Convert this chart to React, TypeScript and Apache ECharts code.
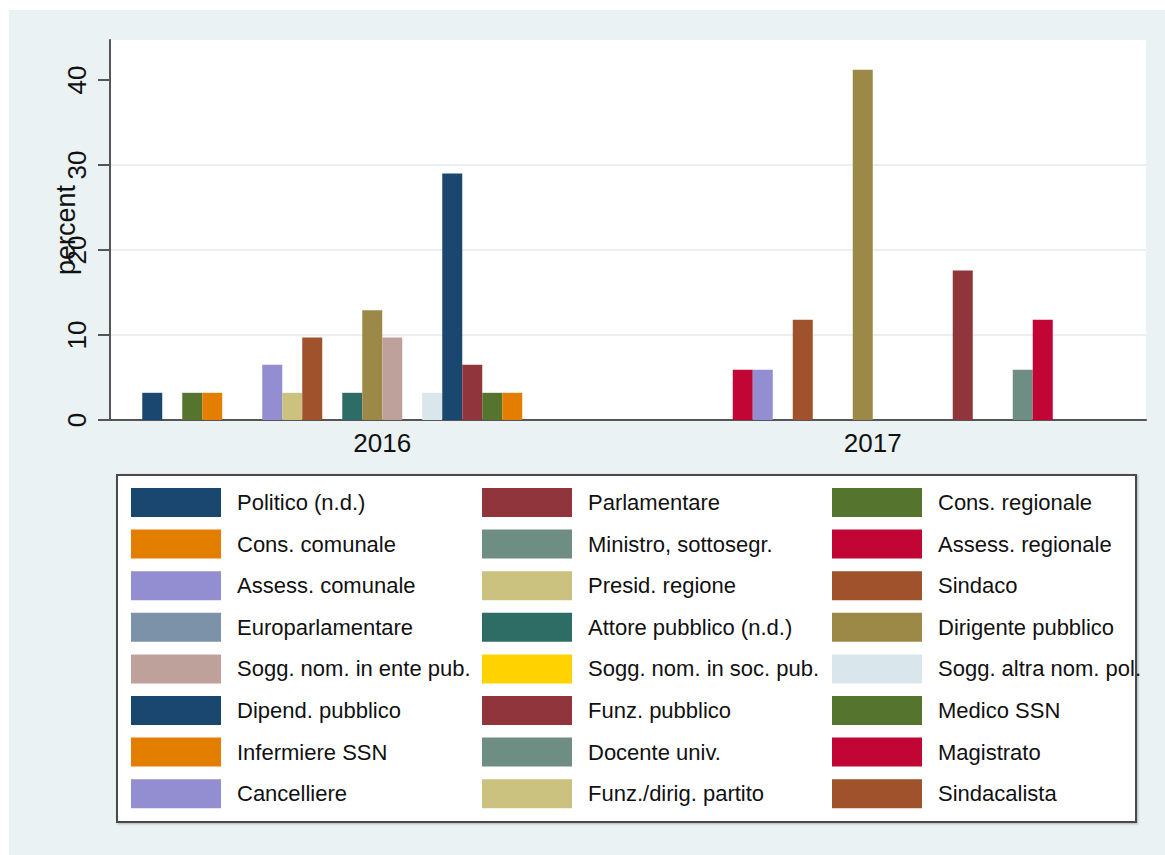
import React, { useEffect, useRef } from "react";
import * as echarts from "echarts";

const categories = ["2016", "2017"];

const seriesNames = [
  "Politico (n.d.)", "Parlamentare", "Cons. regionale",
  "Cons. comunale", "Ministro, sottosegr.", "Assess. regionale",
  "Assess. comunale", "Presid. regione", "Sindaco",
  "Europarlamentare", "Attore pubblico (n.d.)", "Dirigente pubblico",
  "Sogg. nom. in ente pub.", "Sogg. nom. in soc. pub.", "Sogg. altra nom. pol.",
  "Dipend. pubblico", "Funz. pubblico", "Medico SSN",
  "Infermiere SSN", "Docente univ.", "Magistrato",
  "Cancelliere", "Funz./dirig. partito", "Sindacalista",
];

const seriesColors = [
  "#1a476f", "#90353b", "#55752f",
  "#e37e00", "#6e8e84", "#c10534",
  "#938dd2", "#cac27e", "#a0522d",
  "#7b92a8", "#2d6d66", "#9c8847",
  "#bfa19c", "#ffd200", "#d9e6eb",
  "#1a476f", "#90353b", "#55752f",
  "#e37e00", "#6e8e84", "#c10534",
  "#938dd2", "#cac27e", "#a0522d",
];

const values2016 = [3.2, 0, 3.2, 3.2, 0, 0, 6.5, 3.2, 9.7, 0, 3.2, 12.9, 9.7, 0, 3.2, 29.0, 6.5, 3.2, 3.2, 0, 0, 0, 0, 0];
const values2017 = [0, 0, 0, 0, 0, 5.9, 5.9, 0, 11.8, 0, 0, 41.2, 0, 0, 0, 0, 17.6, 0, 0, 5.9, 11.8, 0, 0, 0];

const yTicks = [0, 10, 20, 30, 40];

const FONT = "'Liberation Sans', Arial, Helvetica, sans-serif";

export default function App() {
  const ref = useRef<HTMLDivElement>(null);

  useEffect(() => {
    if (!ref.current) return;
    const chart = echarts.init(ref.current, null, { renderer: "svg" });

    const yMax = 44.7;
    const legendCols = [0, 1, 2].map((c) => seriesNames.filter((_, i) => i % 3 === c));
    const legendLefts = [131, 482, 832];

    const option: any = {
      animation: false,
      grid: [
        { left: 110, top: 40, width: 1036, height: 380, show: true, backgroundColor: "#ffffff", borderWidth: 0 },
        { left: 137, top: 40, width: 981, height: 380, show: false },
      ],
      xAxis: [
        {
          type: "category",
          gridIndex: 0,
          data: categories,
          axisLine: { show: true, lineStyle: { color: "#555", width: 2 } },
          axisTick: { show: false },
          axisLabel: { show: false },
          splitLine: { show: false },
        },
        {
          type: "category",
          gridIndex: 1,
          data: categories,
          axisLine: { show: false },
          axisTick: { show: false },
          axisLabel: { show: true, fontSize: 26, color: "#111", fontFamily: FONT, margin: 10 },
        },
      ],
      yAxis: [
        {
          type: "value",
          gridIndex: 0,
          min: 0,
          max: yMax,
          interval: 10,
          name: "percent",
          nameLocation: "middle",
          nameGap: 31,
          nameMoveOverlap: false,
          nameTextStyle: { fontSize: 27, color: "#111", fontFamily: FONT },
          axisLine: { show: true, lineStyle: { color: "#555", width: 2 } },
          axisTick: { show: true, length: 12, customValues: yTicks, lineStyle: { color: "#555", width: 2 } },
          axisLabel: { rotate: 90, fontSize: 26, color: "#111", fontFamily: FONT, margin: 20, customValues: yTicks },
          splitLine: { show: true, showMaxLine: false, lineStyle: { color: "#e8f0f2", width: 2 } },
        },
        {
          type: "value",
          gridIndex: 1,
          min: 0,
          max: yMax,
          show: false,
          splitLine: { show: false },
        },
      ],
      legend: legendCols.map((names, i) => ({
        data: names,
        orient: "vertical",
        left: legendLefts[i],
        top: 488,
        padding: 0,
        itemWidth: 90,
        itemHeight: 29,
        itemGap: 12.6,
        icon: "rect",
        selectedMode: false,
        textStyle: { fontSize: 22, color: "#111", fontFamily: FONT, padding: [4, 0, -4, 11] },
      })),
      graphic: [
        {
          type: "rect",
          z: -10,
          shape: { x: 117, y: 475, width: 1019, height: 347 },
          style: { fill: "#ffffff", stroke: "#4a4a4a", lineWidth: 2, shadowColor: "rgba(0,0,0,0.25)", shadowBlur: 2, shadowOffsetX: 1, shadowOffsetY: 1 },
        },
      ],
      series: seriesNames.map((name, i) => ({
        name,
        type: "bar",
        xAxisIndex: 1,
        yAxisIndex: 1,
        barWidth: 20,
        barGap: "0%",
        itemStyle: { color: seriesColors[i] },
        data: [values2016[i], values2017[i]],
      })),
    };

    chart.setOption(option);
    return () => chart.dispose();
  }, []);

  return (
    <div style={{ position: "fixed", left: 0, top: 0, width: 1165, height: 855, background: "#fff" }}>
      <div style={{ position: "absolute", left: 9, top: 10, width: 1156, height: 845, background: "#eaf2f3" }} />
      <div ref={ref} style={{ position: "absolute", left: 0, top: 0, width: 1165, height: 855 }} />
    </div>
  );
}
